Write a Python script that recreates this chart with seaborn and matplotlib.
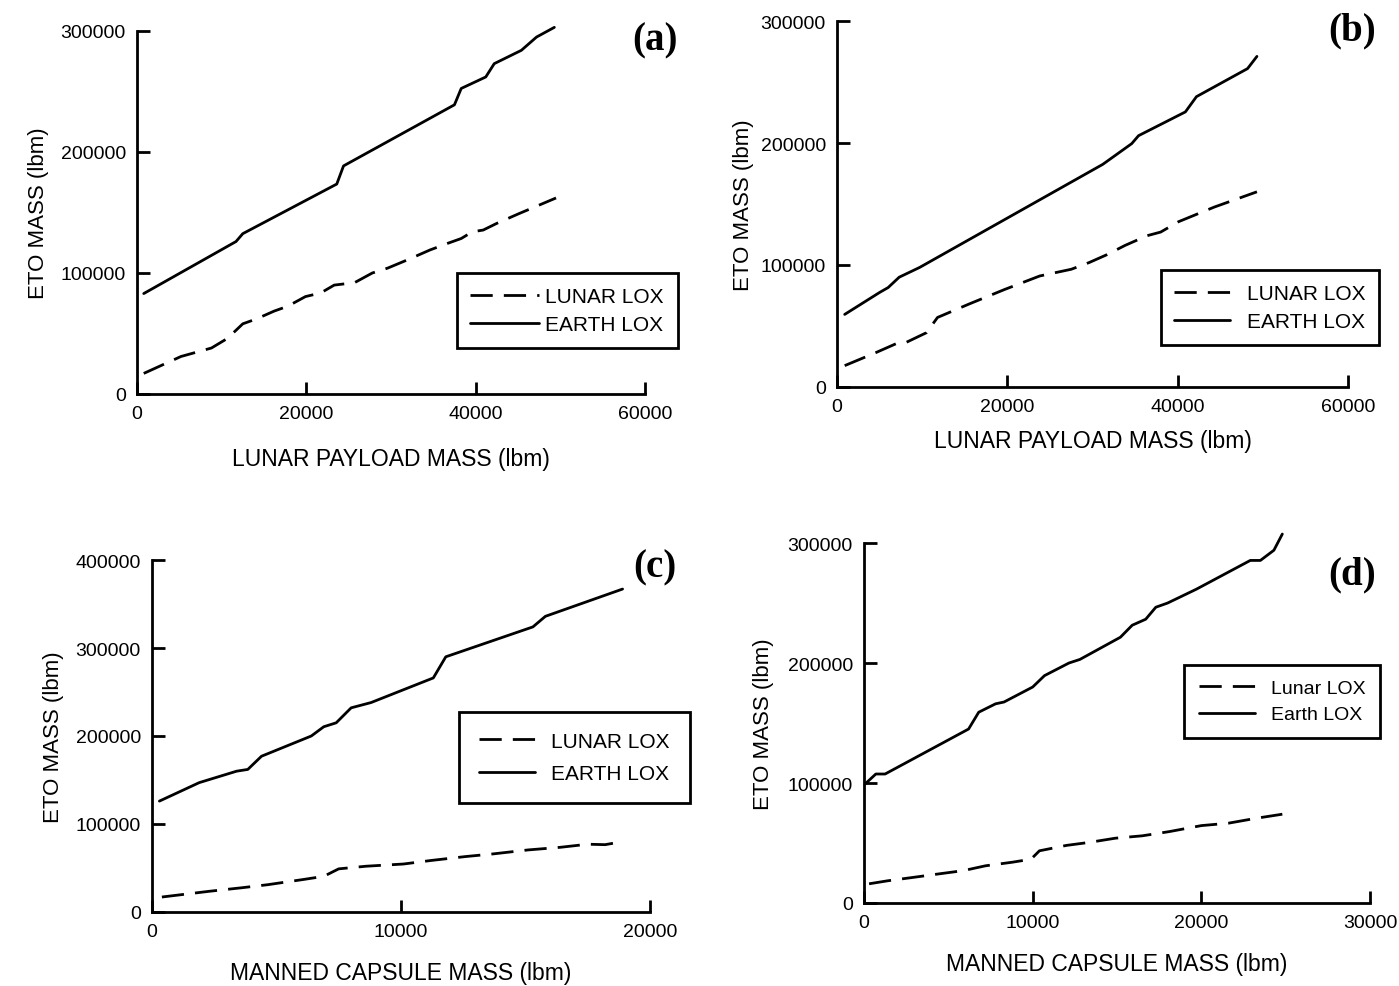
import seaborn as sns
import matplotlib.pyplot as plt
import pandas as pd

# (a) lunar payload mass vs ETO mass
a_lunar_x = [800, 5200, 8800, 10700, 12500, 14100, 16200, 17800, 19900, 21700, 23300, 25700,
             27800, 29600, 32000, 34600, 36700, 38300, 39600, 40900, 42500, 45100, 49500]
a_lunar_y = [17000, 31000, 38000, 46000, 58000, 62000, 68500, 72500, 80500, 83500, 90000, 92000,
             100000, 104000, 111000, 119000, 124500, 128500, 134000, 135500, 141000, 149000, 162000]
a_earth_x = [800, 11700, 12500, 23600, 24400, 37500, 38300, 41200, 42200, 45400, 47200, 49300]
a_earth_y = [83000, 126000, 132500, 173500, 188500, 239000, 252500, 262000, 273000, 284000, 295000, 303000]

# (b) lunar payload mass vs ETO mass
b_lunar_x = [900, 4500, 7100, 8100, 10500, 11800, 15500, 19700, 23800, 27500, 29600, 31700,
             33800, 35100, 36400, 38000, 40100, 44300, 49300]
b_lunar_y = [17500, 28000, 36000, 36500, 44500, 57000, 68000, 80000, 91000, 96500, 102000, 108500,
             116000, 120000, 124000, 127000, 135500, 147500, 160000]
b_earth_x = [900, 5000, 6000, 7300, 9700, 31200, 34600, 35400, 40900, 42200, 48200, 49300]
b_earth_y = [59500, 77500, 81500, 90000, 98000, 182500, 199500, 206000, 225500, 238000, 261000, 271000]

# (c) manned capsule mass vs ETO mass
c_lunar_x = [400, 2300, 3600, 4650, 6100, 6900, 7500, 8600, 10100, 11200, 12600, 13700,
             15100, 16400, 17500, 18200, 18900]
c_lunar_y = [17000, 23500, 27500, 31000, 37000, 40500, 49000, 52000, 54500, 58500, 63000, 66000,
             70500, 73500, 77000, 76500, 80000]
c_earth_x = [300, 1900, 3400, 3850, 4400, 6400, 6900, 7400, 8000, 8800, 11300, 11800,
             15300, 15800, 17700, 18900]
c_earth_y = [126000, 147000, 160000, 162000, 177000, 200000, 210500, 215000, 232000, 238000, 266000, 290000,
             324000, 336000, 355000, 367000]

# (d) manned capsule mass vs ETO mass
d_lunar_x = [300, 1400, 3000, 4300, 5900, 7200, 8800, 9900, 10400, 12000, 13350, 14900,
             16500, 18100, 20000, 21600, 23200, 24800]
d_lunar_y = [16000, 18500, 21500, 24000, 27000, 31000, 34000, 36500, 43500, 48000, 50500, 54000,
             56000, 59500, 64500, 66500, 70500, 74000]
d_earth_x = [50, 700, 1250, 6200, 6800, 7800, 8300, 10000, 10700, 12150, 12800, 15200,
             15900, 16700, 17300, 18000, 19700, 22900, 23500, 24300, 24800]
d_earth_y = [99000, 107500, 107500, 145000, 159000, 166000, 167500, 180000, 189500, 200000, 203000, 221500,
             231500, 236500, 246500, 250000, 261500, 285500, 285500, 294000, 307500]

payload_ticks = [0, 20000, 40000, 60000]
capsule_ticks_c = [0, 10000, 20000]
capsule_ticks_d = [0, 10000, 20000, 30000]
eto_ticks_300 = [0, 100000, 200000, 300000]
eto_ticks_400 = [0, 100000, 200000, 300000, 400000]

sns.set_style("ticks")
plt.rcParams['font.family'] = ['Liberation Sans', 'DejaVu Sans']
plt.rcParams.update({"text.color": "black", "axes.labelcolor": "black",
                     "xtick.color": "black", "ytick.color": "black", "axes.edgecolor": "black"})

fig = plt.figure(figsize=(13.99, 9.87), dpi=100)


def draw_panel(rect, lx, ly, ex, ey, xticks, yticks, xlabel, names, letter, letter_pos,
               leg_pos, leg_kw, xpad, ypad):
    ax = fig.add_axes(rect)
    df_l = pd.DataFrame({"x": lx, "y": ly})
    df_e = pd.DataFrame({"x": ex, "y": ey})
    sns.lineplot(data=df_l, x="x", y="y", ax=ax, color="black", lw=2, estimator=None,
                 linestyle=(0, (8, 4)), label=names[0], clip_on=False)
    sns.lineplot(data=df_e, x="x", y="y", ax=ax, color="black", lw=2, estimator=None,
                 label=names[1], clip_on=False)
    ax.set_xlim(xticks[0], xticks[-1])
    ax.set_ylim(yticks[0], yticks[-1])
    ax.set_xticks(xticks)
    ax.set_yticks(yticks)
    ax.set_xticklabels([str(t) for t in xticks])
    ax.set_yticklabels([str(t) for t in yticks])
    sns.despine(ax=ax)
    for s in ["left", "bottom"]:
        ax.spines[s].set_linewidth(2)
    ax.tick_params(direction="in", length=9, width=2, labelsize=14, pad=8)
    ax.set_xlabel(xlabel, fontsize=16.5, labelpad=xpad)
    ax.set_ylabel("ETO MASS (lbm)", fontsize=16, labelpad=ypad)
    ax.text(letter_pos[0], letter_pos[1], letter, transform=ax.transAxes, ha="center", va="center",
            fontsize=28, fontweight="bold", family="Liberation Serif")
    leg = ax.legend(loc="center", bbox_to_anchor=leg_pos, frameon=True, fancybox=False,
                    framealpha=1, edgecolor="black", **leg_kw)
    leg.get_frame().set_linewidth(2)
    return ax


draw_panel([0.0979, 0.5998, 0.3631, 0.3678], a_lunar_x, a_lunar_y, a_earth_x, a_earth_y,
           payload_ticks, eto_ticks_300, "LUNAR PAYLOAD MASS (lbm)", ["LUNAR LOX", "EARTH LOX"],
           "(a)", (1.02, 0.975), (0.847, 0.23),
           dict(fontsize=15, handlelength=3.3, handletextpad=0.3, labelspacing=0.45, borderpad=0.65),
           18, 8)

draw_panel([0.5983, 0.6069, 0.3653, 0.3708], b_lunar_x, b_lunar_y, b_earth_x, b_earth_y,
           payload_ticks, eto_ticks_300, "LUNAR PAYLOAD MASS (lbm)", ["LUNAR LOX", "EARTH LOX"],
           "(b)", (1.008, 0.975), (0.847, 0.217),
           dict(fontsize=15, handlelength=2.7, handletextpad=0.8, labelspacing=0.45, borderpad=0.65),
           10, 5)

draw_panel([0.1086, 0.0750, 0.3560, 0.3566], c_lunar_x, c_lunar_y, c_earth_x, c_earth_y,
           capsule_ticks_c, eto_ticks_400, "MANNED CAPSULE MASS (lbm)", ["LUNAR LOX", "EARTH LOX"],
           "(c)", (1.01, 0.98), (0.848, 0.439),
           dict(fontsize=15, handlelength=2.7, handletextpad=0.8, labelspacing=0.65, borderpad=0.95),
           15, 8)

draw_panel([0.6176, 0.0841, 0.3617, 0.3647], d_lunar_x, d_lunar_y, d_earth_x, d_earth_y,
           capsule_ticks_d, eto_ticks_300, "MANNED CAPSULE MASS (lbm)", ["Lunar LOX", "Earth LOX"],
           "(d)", (0.964, 0.914), (0.826, 0.56),
           dict(fontsize=14, handlelength=2.9, handletextpad=0.8, labelspacing=0.45, borderpad=0.75),
           15, 10)

fig.savefig("out.png", dpi=100)
